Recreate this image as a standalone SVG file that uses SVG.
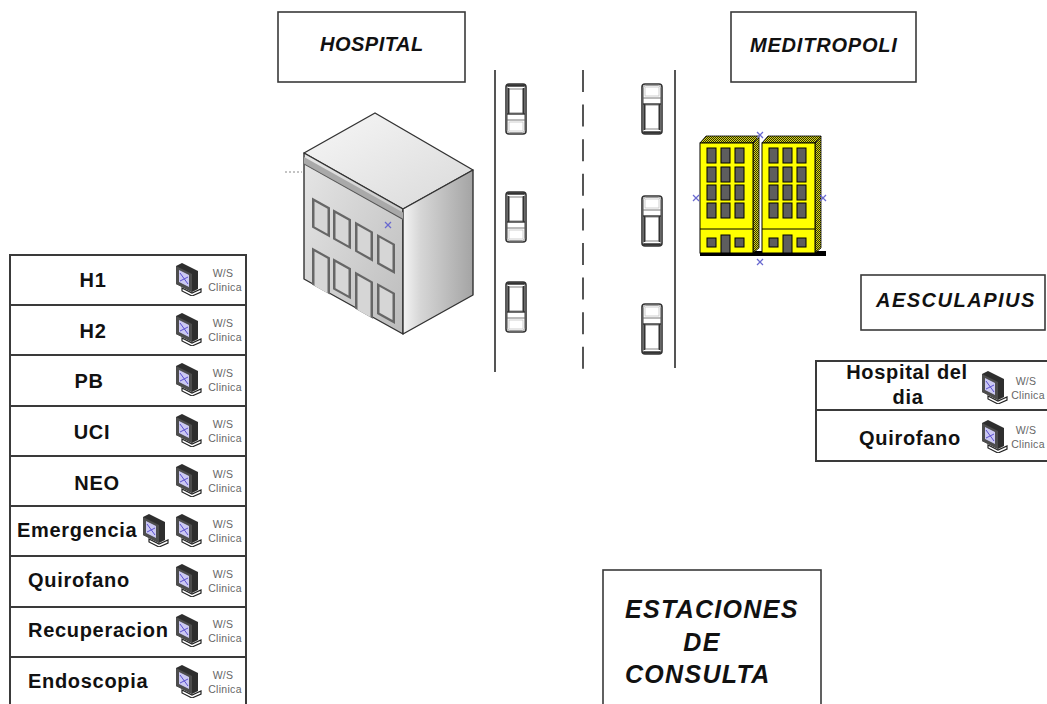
<svg xmlns="http://www.w3.org/2000/svg" width="1047" height="704" viewBox="0 0 1047 704">
  <style>
    .box { fill: #fff; stroke: #3a3a3a; stroke-width: 1.6; }
    .grid { fill: none; stroke: #3a3a3a; stroke-width: 2; }
    .row { font-family: "Liberation Sans", Arial, sans-serif; font-weight: bold; font-size: 20px; letter-spacing: 0.7px; fill: #111; }
    .title { font-family: "Liberation Sans", Arial, sans-serif; font-weight: bold; font-style: italic; font-size: 20px; fill: #111; }
    .big { font-family: "Liberation Sans", Arial, sans-serif; font-weight: bold; font-style: italic; font-size: 25px; letter-spacing: 1.3px; fill: #111; }
    .ws { font-family: "Liberation Sans", Arial, sans-serif; font-size: 10.5px; letter-spacing: 0.3px; fill: #666; text-anchor: middle; }
    .road { stroke: #555; stroke-width: 2; }
    .edge { stroke: #333; stroke-width: 1.4; stroke-linejoin: round; }
    .mark { stroke: #6a6ad0; stroke-width: 1.2; }
    .win { fill: #666; }
    .pane { fill: #d6d6d6; }
    .ywin { fill: #5e5e5e; stroke: #000; stroke-width: 1; }
  </style>
  <defs>
    <!-- workstation monitor glyph -->
    <symbol id="ws" viewBox="0 0 28 34" width="28" height="34">
      <polygon points="2,4 8,1 24,9 24,27 18,30 2,22" fill="#2e2e2e"/>
      <polygon points="2,4 18,12 18,30 2,22" fill="#4d4d4d"/>
      <polygon points="5,8 15,13 15,25 5,20" fill="#cbc8f2"/>
      <line x1="6" y1="11" x2="14" y2="22" stroke="#5a4fcf" stroke-width="1"/>
      <line x1="14" y1="15" x2="6" y2="19" stroke="#5a4fcf" stroke-width="1"/>
      <polygon points="8,26 18,31 27,27 27,30 18,34 8,29" fill="#fff" stroke="#222" stroke-width="1.2"/>
    </symbol>
    <!-- top view of a car, front at the top -->
    <symbol id="car" viewBox="0 0 22 52" width="22" height="52" overflow="visible">
      <rect x="1" y="1" width="20" height="50" rx="3" fill="#fff" stroke="#333" stroke-width="1.6"/>
      <rect x="2.5" y="2.5" width="17" height="47" rx="2" fill="none" stroke="#888" stroke-width="0.8"/>
      <rect x="2" y="1.2" width="18" height="2.6" rx="1.2" fill="#333"/>
      <rect x="4" y="6" width="14" height="24" fill="#fff" stroke="#666" stroke-width="0.8"/>
      <rect x="2.5" y="5" width="1.8" height="26" fill="#333"/>
      <rect x="17.7" y="5" width="1.8" height="26" fill="#333"/>
      <line x1="2" y1="31" x2="20" y2="31" stroke="#333" stroke-width="1.4"/>
      <line x1="2" y1="37" x2="20" y2="37" stroke="#666" stroke-width="0.9"/>
      <rect x="4" y="39" width="14" height="9" fill="#fff" stroke="#bbb" stroke-width="0.7"/>
    </symbol>
    <pattern id="dither" width="2" height="2" patternUnits="userSpaceOnUse">
      <rect width="2" height="2" fill="#e8e800"/>
      <rect width="1" height="1" fill="#222"/>
      <rect x="1" y="1" width="1" height="1" fill="#222"/>
    </pattern>
    <linearGradient id="gTop" x1="0" y1="0" x2="1" y2="1">
      <stop offset="0" stop-color="#f7f7f7"/>
      <stop offset="1" stop-color="#d9d9d9"/>
    </linearGradient>
    <linearGradient id="gLeft" x1="0" y1="0" x2="1" y2="1">
      <stop offset="0" stop-color="#e6e6e6"/>
      <stop offset="1" stop-color="#bcbcbc"/>
    </linearGradient>
    <linearGradient id="gRight" x1="0" y1="0" x2="1" y2="0">
      <stop offset="0" stop-color="#f4f4f4"/>
      <stop offset="0.25" stop-color="#d6d6d6"/>
      <stop offset="1" stop-color="#a4a4a4"/>
    </linearGradient>
  </defs>

  <rect width="1047" height="704" fill="#fff"/>

  <!-- site labels -->
  <g id="label-hospital">
    <rect class="box" x="278" y="12" width="187" height="70"/>
    <text class="title" x="320" y="51" letter-spacing="0.5">HOSPITAL</text>
  </g>
  <g id="label-meditropoli">
    <rect class="box" x="731" y="12" width="185" height="70"/>
    <text class="title" x="750" y="52" letter-spacing="0.8">MEDITROPOLI</text>
  </g>
  <g id="label-aesculapius">
    <rect class="box" x="861" y="275" width="184" height="55"/>
    <text class="title" x="876" y="307" letter-spacing="1.5">AESCULAPIUS</text>
  </g>
  <g id="label-consulta">
    <rect class="box" x="603" y="570" width="218" height="140"/>
    <text class="big" x="625" y="618">ESTACIONES</text>
    <text class="big" x="702" y="651" text-anchor="middle">DE</text>
    <text class="big" x="625" y="683">CONSULTA</text>
  </g>

  <!-- hospital building -->
  <g id="hospital-building">
    <line x1="285" y1="172" x2="302" y2="172" stroke="#888" stroke-width="1" stroke-dasharray="2,2"/>
    <polygon class="edge" points="304,153 375,113 473,170 403,209" fill="url(#gTop)"/>
    <polygon class="edge" points="304,153 403,209 403,334 304,279" fill="url(#gLeft)"/>
    <polygon class="edge" points="403,209 473,170 473,295 403,334" fill="url(#gRight)"/>
    <g transform="matrix(1,0.56,0,1,304,153)">
      <rect x="0" y="4" width="99" height="7" fill="#a9a9a9"/>
      <line x1="0" y1="11" x2="99" y2="11" stroke="#555" stroke-width="1.2"/>
      <!-- upper windows -->
      <rect class="win" x="8" y="40" width="18" height="30"/>
      <rect class="pane" x="10.5" y="42.5" width="13" height="25"/>
      <rect class="win" x="29" y="40" width="18" height="30"/>
      <rect class="pane" x="31.5" y="42.5" width="13" height="25"/>
      <rect class="win" x="51" y="40" width="18" height="30"/>
      <rect class="pane" x="53.5" y="42.5" width="13" height="25"/>
      <rect class="win" x="73" y="40" width="18" height="30"/>
      <rect class="pane" x="75.5" y="42.5" width="13" height="25"/>
      <!-- ground floor -->
      <rect class="win" x="8" y="90" width="18" height="37"/>
      <rect class="pane" x="10.5" y="92.5" width="13" height="34.5"/>
      <rect class="win" x="29" y="89" width="18" height="31"/>
      <rect class="pane" x="31.5" y="91.5" width="13" height="26"/>
      <rect class="win" x="51" y="90" width="18" height="37"/>
      <rect class="pane" x="53.5" y="92.5" width="13" height="34.5"/>
      <rect class="win" x="73" y="89" width="18" height="31"/>
      <rect class="pane" x="75.5" y="91.5" width="13" height="26"/>
    </g>
    <line class="mark" x1="385" y1="222" x2="391" y2="228"/>
    <line class="mark" x1="391" y1="222" x2="385" y2="228"/>
  </g>

  <!-- street with traffic -->
  <g id="street">
    <line class="road" x1="495" y1="70" x2="495" y2="372"/>
    <line class="road" x1="675" y1="70" x2="675" y2="368"/>
    <line class="road" x1="583" y1="70" x2="583" y2="370" stroke-dasharray="22,12.6"/>
    <use href="#car" x="505" y="83"/>
    <use href="#car" x="505" y="191"/>
    <use href="#car" x="505" y="281"/>
    <use href="#car" transform="translate(641,135) scale(1,-1)"/>
    <use href="#car" transform="translate(641,247) scale(1,-1)"/>
    <use href="#car" transform="translate(641,355) scale(1,-1)"/>
  </g>

  <!-- meditropoli towers -->
  <g id="meditropoli-building">
    <rect x="700" y="251" width="126" height="5" fill="#000"/>
    <g id="tower-a">
      <polygon points="700,143 706,136 759,136 753,143" fill="url(#dither)" stroke="#000" stroke-width="0.8"/>
      <polygon points="753,143 759,136 759,248 753,253" fill="url(#dither)" stroke="#000" stroke-width="0.8"/>
      <rect x="700" y="143" width="53" height="110" fill="#ffff00" stroke="#000" stroke-width="1"/>
      <rect class="ywin" x="707" y="148" width="9" height="15"/><rect class="ywin" x="721" y="148" width="9" height="15"/><rect class="ywin" x="735" y="148" width="9" height="15"/>
      <rect class="ywin" x="707" y="167" width="9" height="15"/><rect class="ywin" x="721" y="167" width="9" height="15"/><rect class="ywin" x="735" y="167" width="9" height="15"/>
      <rect class="ywin" x="707" y="185" width="9" height="15"/><rect class="ywin" x="721" y="185" width="9" height="15"/><rect class="ywin" x="735" y="185" width="9" height="15"/>
      <rect class="ywin" x="707" y="203" width="9" height="15"/><rect class="ywin" x="721" y="203" width="9" height="15"/><rect class="ywin" x="735" y="203" width="9" height="15"/>
      <line x1="700" y1="229" x2="753" y2="229" stroke="#000" stroke-width="1"/>
      <rect class="ywin" x="707" y="238" width="9" height="9"/><rect class="ywin" x="721" y="235" width="9" height="18"/><rect class="ywin" x="735" y="238" width="9" height="9"/>
    </g>
    <g id="tower-b" transform="translate(62,0)">
      <polygon points="700,143 706,136 759,136 753,143" fill="url(#dither)" stroke="#000" stroke-width="0.8"/>
      <polygon points="753,143 759,136 759,248 753,253" fill="url(#dither)" stroke="#000" stroke-width="0.8"/>
      <rect x="700" y="143" width="53" height="110" fill="#ffff00" stroke="#000" stroke-width="1"/>
      <rect class="ywin" x="707" y="148" width="9" height="15"/><rect class="ywin" x="721" y="148" width="9" height="15"/><rect class="ywin" x="735" y="148" width="9" height="15"/>
      <rect class="ywin" x="707" y="167" width="9" height="15"/><rect class="ywin" x="721" y="167" width="9" height="15"/><rect class="ywin" x="735" y="167" width="9" height="15"/>
      <rect class="ywin" x="707" y="185" width="9" height="15"/><rect class="ywin" x="721" y="185" width="9" height="15"/><rect class="ywin" x="735" y="185" width="9" height="15"/>
      <rect class="ywin" x="707" y="203" width="9" height="15"/><rect class="ywin" x="721" y="203" width="9" height="15"/><rect class="ywin" x="735" y="203" width="9" height="15"/>
      <line x1="700" y1="229" x2="753" y2="229" stroke="#000" stroke-width="1"/>
      <rect class="ywin" x="707" y="238" width="9" height="9"/><rect class="ywin" x="721" y="235" width="9" height="18"/><rect class="ywin" x="735" y="238" width="9" height="9"/>
    </g>
    <g id="handles">
      <line class="mark" x1="757" y1="132" x2="763" y2="138"/><line class="mark" x1="763" y1="132" x2="757" y2="138"/>
      <line class="mark" x1="693" y1="195" x2="699" y2="201"/><line class="mark" x1="699" y1="195" x2="693" y2="201"/>
      <line class="mark" x1="820" y1="195" x2="826" y2="201"/><line class="mark" x1="826" y1="195" x2="820" y2="201"/>
      <line class="mark" x1="757" y1="259" x2="763" y2="265"/><line class="mark" x1="763" y1="259" x2="757" y2="265"/>
    </g>
  </g>

  <!-- hospital ward workstations -->
  <g id="ward-table">
    <rect class="grid" x="10" y="255" width="236" height="455"/>
    <line class="grid" x1="10" y1="305" x2="246" y2="305"/>
    <line class="grid" x1="10" y1="355" x2="246" y2="355"/>
    <line class="grid" x1="10" y1="406" x2="246" y2="406"/>
    <line class="grid" x1="10" y1="456" x2="246" y2="456"/>
    <line class="grid" x1="10" y1="506" x2="246" y2="506"/>
    <line class="grid" x1="10" y1="556" x2="246" y2="556"/>
    <line class="grid" x1="10" y1="607" x2="246" y2="607"/>
    <line class="grid" x1="10" y1="657" x2="246" y2="657"/>
  </g>
  <g id="ward-h1">
    <text class="row" x="93" y="287" text-anchor="middle">H1</text>
    <use href="#ws" x="174" y="262"/>
    <text class="ws" x="223" y="277">W/S</text><text class="ws" x="225" y="291">Clinica</text>
  </g>
  <g id="ward-h2">
    <text class="row" x="93" y="338" text-anchor="middle">H2</text>
    <use href="#ws" x="174" y="312"/>
    <text class="ws" x="223" y="327">W/S</text><text class="ws" x="225" y="341">Clinica</text>
  </g>
  <g id="ward-pb">
    <text class="row" x="89" y="388" text-anchor="middle">PB</text>
    <use href="#ws" x="174" y="362"/>
    <text class="ws" x="223" y="377">W/S</text><text class="ws" x="225" y="391">Clinica</text>
  </g>
  <g id="ward-uci">
    <text class="row" x="92" y="439" text-anchor="middle">UCI</text>
    <use href="#ws" x="174" y="413"/>
    <text class="ws" x="223" y="428">W/S</text><text class="ws" x="225" y="442">Clinica</text>
  </g>
  <g id="ward-neo">
    <text class="row" x="97" y="490" text-anchor="middle">NEO</text>
    <use href="#ws" x="174" y="463"/>
    <text class="ws" x="223" y="478">W/S</text><text class="ws" x="225" y="492">Clinica</text>
  </g>
  <g id="ward-emergencia">
    <text class="row" x="17" y="537">Emergencia</text>
    <use href="#ws" x="141" y="513"/>
    <use href="#ws" x="174" y="513"/>
    <text class="ws" x="223" y="528">W/S</text><text class="ws" x="225" y="542">Clinica</text>
  </g>
  <g id="ward-quirofano">
    <text class="row" x="28" y="587">Quirofano</text>
    <use href="#ws" x="174" y="563"/>
    <text class="ws" x="223" y="578">W/S</text><text class="ws" x="225" y="592">Clinica</text>
  </g>
  <g id="ward-recuperacion">
    <text class="row" x="28" y="637">Recuperacion</text>
    <use href="#ws" x="174" y="613"/>
    <text class="ws" x="223" y="628">W/S</text><text class="ws" x="225" y="642">Clinica</text>
  </g>
  <g id="ward-endoscopia">
    <text class="row" x="28" y="688">Endoscopia</text>
    <use href="#ws" x="174" y="664"/>
    <text class="ws" x="223" y="679">W/S</text><text class="ws" x="225" y="693">Clinica</text>
  </g>

  <!-- aesculapius workstations -->
  <g id="aesculapius-table">
    <rect class="grid" x="816" y="361" width="240" height="100"/>
    <line class="grid" x1="816" y1="410" x2="1050" y2="410"/>
  </g>
  <g id="aesc-hospital-dia">
    <text class="row" x="907" y="379" text-anchor="middle">Hospital del</text>
    <text class="row" x="908" y="404" text-anchor="middle">dia</text>
    <use href="#ws" x="980" y="370"/>
    <text class="ws" x="1026" y="385">W/S</text><text class="ws" x="1028" y="399">Clinica</text>
  </g>
  <g id="aesc-quirofano">
    <text class="row" x="859" y="445">Quirofano</text>
    <use href="#ws" x="980" y="419"/>
    <text class="ws" x="1026" y="434">W/S</text><text class="ws" x="1028" y="448">Clinica</text>
  </g>

  <g id="connectors"/>
</svg>
